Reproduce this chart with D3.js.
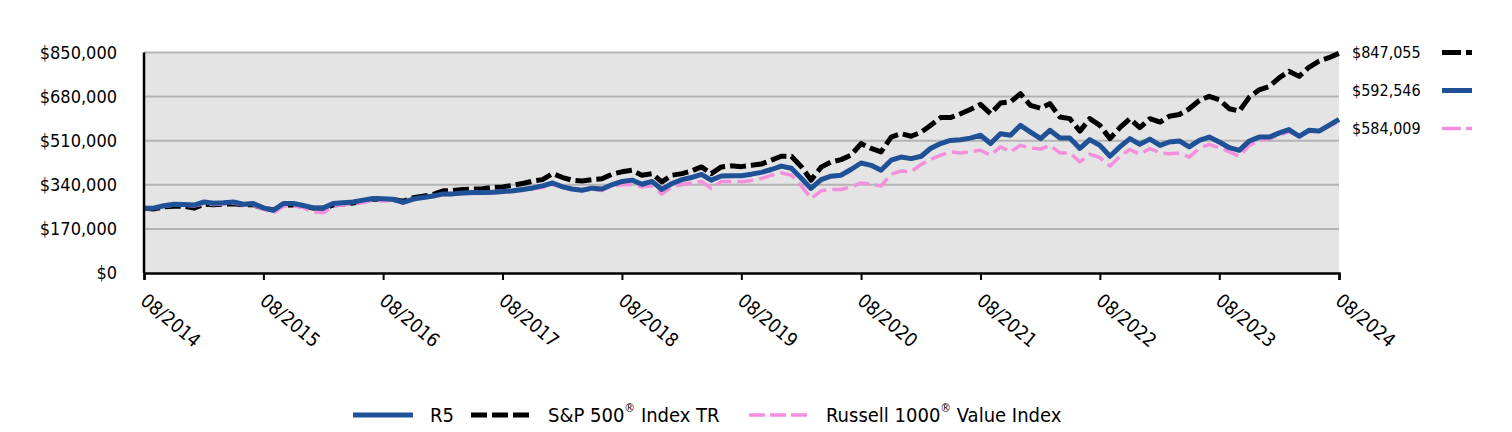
<!DOCTYPE html>
<html>
<head>
<meta charset="utf-8">
<script src="https://cdn.jsdelivr.net/npm/d3@7"></script>
<style>
	body { margin: 0; background: #ffffff; }
	svg text { font-family: 'DejaVu Sans Condensed', 'Noto Sans', sans-serif; fill: #000000; }
</style>
</head>
<body>
<div id="chart"></div>
<script>
// monthly values, 08/2014 .. 08/2024
var startMonth = new Date(2014, 7, 1);

var r5Values = [
	250000, 251000, 259000, 265000, 264000, 262000, 274000, 269000, 271000, 274000,
	265000, 268000, 251000, 242000, 268000, 268000, 260000, 251000, 251000, 268000,
	271000, 274000, 281000, 287000, 286000, 284000, 272000, 285000, 291000, 297000,
	305000, 305000, 308000, 310000, 310000, 311000, 314000, 317000, 322000, 328000,
	336000, 347000, 332000, 324000, 319000, 327000, 324000, 340000, 353000, 358000,
	342000, 353000, 322000, 345000, 360000, 368000, 380000, 358000, 374000, 375000,
	375000, 381000, 388000, 399000, 412000, 404000, 364000, 326000, 360000, 373000,
	377000, 399000, 424000, 415000, 396000, 435000, 447000, 441000, 450000, 480000,
	499000, 511000, 514000, 520000, 531000, 499000, 537000, 531000, 569000, 543000,
	518000, 550000, 520000, 520000, 480000, 514000, 492000, 450000, 486000, 518000,
	496000, 516000, 492000, 505000, 509000, 486000, 511000, 524000, 505000, 483000,
	473000, 509000, 524000, 524000, 540000, 553000, 527000, 550000, 547000, 569000,
	592546
];

var spValues = [
	250000, 247000, 255000, 257000, 257000, 250000, 265000, 263000, 265000, 267000,
	263000, 263000, 250000, 243000, 262000, 263000, 257000, 250000, 250000, 262000,
	266000, 270000, 278000, 285000, 283000, 283000, 277000, 290000, 296000, 303000,
	317000, 318000, 322000, 324000, 325000, 330000, 332000, 338000, 345000, 354000,
	360000, 383000, 368000, 358000, 355000, 360000, 363000, 381000, 390000, 396000,
	377000, 383000, 351000, 377000, 383000, 393000, 409000, 383000, 409000, 413000,
	410000, 415000, 420000, 435000, 450000, 450000, 409000, 358000, 408000, 428000,
	437000, 454000, 499000, 480000, 467000, 524000, 537000, 527000, 543000, 569000,
	599000, 599000, 614000, 630000, 650000, 614000, 655000, 660000, 691000, 646000,
	635000, 653000, 601000, 595000, 547000, 595000, 569000, 518000, 560000, 595000,
	560000, 595000, 582000, 604000, 611000, 633000, 665000, 681000, 668000, 633000,
	624000, 678000, 706000, 719000, 753000, 778000, 758000, 793000, 817000, 830000,
	847055
];

var russellValues = [
	248000, 250000, 256000, 262000, 262000, 258000, 268000, 264000, 266000, 270000,
	262000, 262000, 245000, 232000, 258000, 258000, 252000, 235000, 232000, 258000,
	262000, 267000, 272000, 280000, 278000, 280000, 270000, 282000, 288000, 295000,
	302000, 303000, 305000, 307000, 306000, 307000, 310000, 313000, 318000, 324000,
	330000, 340000, 330000, 322000, 318000, 322000, 318000, 336000, 340000, 341000,
	332000, 336000, 304000, 332000, 341000, 347000, 353000, 326000, 353000, 353000,
	352000, 357000, 364000, 377000, 386000, 377000, 335000, 287000, 317000, 322000,
	322000, 332000, 347000, 342000, 335000, 381000, 393000, 390000, 419000, 437000,
	454000, 467000, 463000, 467000, 473000, 454000, 486000, 467000, 492000, 482000,
	478000, 492000, 463000, 463000, 428000, 458000, 445000, 412000, 450000, 476000,
	458000, 480000, 463000, 460000, 463000, 447000, 480000, 496000, 483000, 467000,
	450000, 492000, 509000, 518000, 531000, 545000, 525000, 545000, 545000, 565000,
	584009
];

var yTicks = [0, 170000, 340000, 510000, 680000, 850000];
var xTickYears = [2014, 2015, 2016, 2017, 2018, 2019, 2020, 2021, 2022, 2023, 2024];

var seriesNames = ["R5", "S&P 500", "Russell 1000"];
var seriesSup = ["", "\u00AE", "\u00AE"];
var seriesTail = ["", " Index TR", " Value Index"];

// layout
var margin = {top: 52.5, right: 173, bottom: 159, left: 144},
	fullW = 1512, fullH = 432,
	width = fullW - margin.left - margin.right,
	height = fullH - margin.top - margin.bottom;

var styles = [
	{color: "#1f5196", width: 5, dash: null},
	{color: "#000000", width: 5, dash: "16,5"},
	{color: "#f48fdd", width: 3.5, dash: "16,6"}
];

function monthDate(i) {
	return new Date(2014, 7 + i, 1);
}

var xScale = d3.scaleTime()
	.domain([startMonth, monthDate(120)])
	.range([0, width]);

var yScale = d3.scaleLinear()
	.domain([0, 850000])
	.range([height, 0]);

var svg = d3.select("#chart").append("svg")
	.attr("width", fullW)
	.attr("height", fullH);

var g = svg.append("g")
	.attr("transform", "translate(" + margin.left + "," + margin.top + ")");

// plot background
g.append("rect")
	.attr("x", 0)
	.attr("y", 0)
	.attr("width", width)
	.attr("height", height)
	.attr("fill", "#e4e4e4");

// gridlines
g.selectAll(".grid")
	.data(yTicks.filter(function(d) { return d > 0; }))
	.enter()
	.append("line")
		.attr("class", "grid")
		.attr("x1", 0)
		.attr("x2", width)
		.attr("y1", function(d) { return yScale(d); })
		.attr("y2", function(d) { return yScale(d); })
		.attr("stroke", "#b4b4b4")
		.attr("stroke-width", 2);

// y axis labels
var fmt = d3.format("$,");
g.selectAll(".ylab")
	.data(yTicks)
	.enter()
	.append("text")
		.attr("class", "ylab")
		.attr("x", -27)
		.attr("y", function(d) { return yScale(d); })
		.attr("dy", "0.35em")
		.attr("text-anchor", "end")
		.attr("font-size", "18px")
		.text(function(d) { return fmt(d); });

// lines (black, pink, then blue on top)
var line = d3.line()
	.x(function(d, i) { return xScale(monthDate(i)); })
	.y(function(d) { return yScale(d); });

var drawOrder = [
	{vals: spValues, st: styles[1]},
	{vals: russellValues, st: styles[2]},
	{vals: r5Values, st: styles[0]}
];

drawOrder.forEach(function(s) {
	g.append("path")
		.datum(s.vals)
		.attr("d", line)
		.attr("fill", "none")
		.attr("stroke", s.st.color)
		.attr("stroke-width", s.st.width)
		.attr("stroke-dasharray", s.st.dash)
		.attr("stroke-linejoin", "round");
});

// axes lines
var xAxis = d3.axisBottom(xScale)
	.tickValues(xTickYears.map(function(y) { return new Date(y, 7, 1); }))
	.tickSize(7)
	.tickFormat("");

var xg = g.append("g")
	.attr("transform", "translate(0," + height + ")")
	.call(xAxis);
xg.select(".domain").attr("stroke", "#000").attr("stroke-width", 2.5);
xg.selectAll(".tick line").attr("stroke", "#000").attr("stroke-width", 2);

g.append("line")
	.attr("x1", 0).attr("x2", 0)
	.attr("y1", 0).attr("y2", height)
	.attr("stroke", "#000")
	.attr("stroke-width", 2.5);

// rotated x labels
g.selectAll(".xlab")
	.data(xTickYears)
	.enter()
	.append("text")
		.attr("class", "xlab")
		.attr("transform", function(y) {
			return "translate(" + (xScale(new Date(y, 7, 1)) + 5) + "," + (height + 18) + ") rotate(40)";
		})
		.attr("dy", "0.8em")
		.attr("font-size", "19px")
		.text(function(y) { return "08/" + y; });

// end value labels with line samples
var endVals = [
	{v: spValues[120], st: styles[1], y: 52.5},
	{v: r5Values[120], st: styles[0], y: 90.5},
	{v: russellValues[120], st: styles[2], y: 128.5}
];
var endG = svg.selectAll(".endlab")
	.data(endVals)
	.enter()
	.append("g")
		.attr("class", "endlab")
		.attr("transform", function(d) { return "translate(1352," + d.y + ")"; });
endG.append("text")
	.attr("dy", "0.35em")
	.attr("font-size", "16px")
	.text(function(d) { return fmt(d.v); });
endG.append("line")
	.attr("x1", 90).attr("x2", 120)
	.attr("y1", 0).attr("y2", 0)
	.attr("stroke", function(d) { return d.st.color; })
	.attr("stroke-width", function(d) { return d.st.width; })
	.attr("stroke-dasharray", function(d) { return d.st.dash ? "19,5" : null; });

// bottom legend
var legendX = [353, 471, 749];
var leg = svg.selectAll(".legend")
	.data(seriesNames)
	.enter()
	.append("g")
		.attr("class", "legend")
		.attr("transform", function(d, i) { return "translate(" + legendX[i] + ",415)"; });
leg.append("line")
	.attr("x1", 0).attr("x2", 60)
	.attr("y1", 0).attr("y2", 0)
	.attr("stroke", function(d, i) { return styles[i].color; })
	.attr("stroke-width", function(d, i) { return styles[i].width; })
	.attr("stroke-dasharray", function(d, i) { return styles[i].dash ? "16,5" : null; });
var legText = leg.append("text")
	.attr("x", 77)
	.attr("dy", "0.35em")
	.attr("font-size", "20px");
legText.append("tspan").text(function(d) { return d; });
legText.append("tspan")
	.attr("font-size", "12px")
	.attr("dy", "-0.8em")
	.text(function(d, i) { return seriesSup[i]; });
legText.append("tspan")
	.attr("dy", function(d, i) { return seriesSup[i] ? "0.5em" : null; })
	.text(function(d, i) { return seriesTail[i]; });
</script>
</body>
</html>
